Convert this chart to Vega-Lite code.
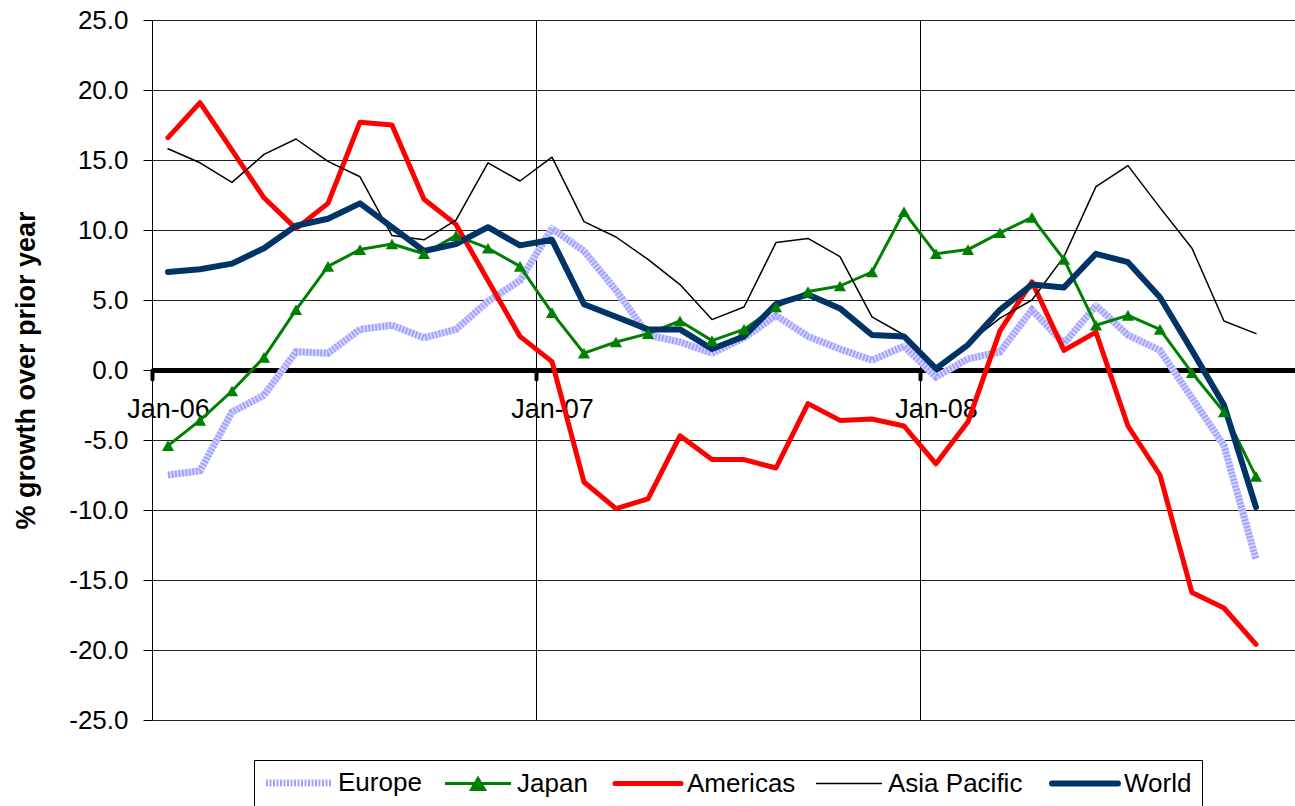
{
  "$schema": "https://vega.github.io/schema/vega-lite/v6.json",
  "width": 1143,
  "height": 700,
  "autosize": {"type": "none"},
  "padding": {"left": 152, "top": 20, "right": 0, "bottom": 86},
  "config": {
    "view": {"stroke": null},
    "font": "Liberation Sans",
    "axis": {"labelFont": "Liberation Sans", "titleFont": "Liberation Sans"},
    "legend": {"labelFont": "Liberation Sans"}
  },
  "data": {
    "values": [
      {"i": 0, "month": "Jan-06", "Europe": -7.5, "Japan": -5.4, "Americas": 16.6, "Asia Pacific": 15.8, "World": 7.0},
      {"i": 1, "month": "Feb-06", "Europe": -7.2, "Japan": -3.6, "Americas": 19.1, "Asia Pacific": 14.8, "World": 7.2},
      {"i": 2, "month": "Mar-06", "Europe": -3.0, "Japan": -1.5, "Americas": 15.7, "Asia Pacific": 13.4, "World": 7.6},
      {"i": 3, "month": "Apr-06", "Europe": -1.8, "Japan": 0.9, "Americas": 12.3, "Asia Pacific": 15.4, "World": 8.7},
      {"i": 4, "month": "May-06", "Europe": 1.3, "Japan": 4.3, "Americas": 10.1, "Asia Pacific": 16.5, "World": 10.3},
      {"i": 5, "month": "Jun-06", "Europe": 1.2, "Japan": 7.4, "Americas": 11.9, "Asia Pacific": 14.9, "World": 10.8},
      {"i": 6, "month": "Jul-06", "Europe": 2.9, "Japan": 8.6, "Americas": 17.7, "Asia Pacific": 13.8, "World": 11.9},
      {"i": 7, "month": "Aug-06", "Europe": 3.2, "Japan": 9.0, "Americas": 17.5, "Asia Pacific": 9.6, "World": 10.2},
      {"i": 8, "month": "Sep-06", "Europe": 2.3, "Japan": 8.3, "Americas": 12.2, "Asia Pacific": 9.3, "World": 8.5},
      {"i": 9, "month": "Oct-06", "Europe": 2.9, "Japan": 9.6, "Americas": 10.4, "Asia Pacific": 10.7, "World": 9.0},
      {"i": 10, "month": "Nov-06", "Europe": 4.9, "Japan": 8.7, "Americas": 6.4, "Asia Pacific": 14.8, "World": 10.2},
      {"i": 11, "month": "Dec-06", "Europe": 6.4, "Japan": 7.4, "Americas": 2.4, "Asia Pacific": 13.5, "World": 8.9},
      {"i": 12, "month": "Jan-07", "Europe": 10.1, "Japan": 4.1, "Americas": 0.6, "Asia Pacific": 15.2, "World": 9.3},
      {"i": 13, "month": "Feb-07", "Europe": 8.5, "Japan": 1.2, "Americas": -8.0, "Asia Pacific": 10.6, "World": 4.7},
      {"i": 14, "month": "Mar-07", "Europe": 5.7, "Japan": 2.0, "Americas": -9.9, "Asia Pacific": 9.5, "World": 3.8},
      {"i": 15, "month": "Apr-07", "Europe": 2.5, "Japan": 2.6, "Americas": -9.2, "Asia Pacific": 7.9, "World": 2.9},
      {"i": 16, "month": "May-07", "Europe": 2.0, "Japan": 3.5, "Americas": -4.7, "Asia Pacific": 6.1, "World": 2.9},
      {"i": 17, "month": "Jun-07", "Europe": 1.2, "Japan": 2.1, "Americas": -6.4, "Asia Pacific": 3.6, "World": 1.5},
      {"i": 18, "month": "Jul-07", "Europe": 2.3, "Japan": 2.9, "Americas": -6.4, "Asia Pacific": 4.5, "World": 2.4},
      {"i": 19, "month": "Aug-07", "Europe": 3.9, "Japan": 4.5, "Americas": -7.0, "Asia Pacific": 9.1, "World": 4.7},
      {"i": 20, "month": "Sep-07", "Europe": 2.4, "Japan": 5.6, "Americas": -2.4, "Asia Pacific": 9.4, "World": 5.4},
      {"i": 21, "month": "Oct-07", "Europe": 1.5, "Japan": 6.0, "Americas": -3.6, "Asia Pacific": 8.1, "World": 4.4},
      {"i": 22, "month": "Nov-07", "Europe": 0.7, "Japan": 7.0, "Americas": -3.5, "Asia Pacific": 3.8, "World": 2.5},
      {"i": 23, "month": "Dec-07", "Europe": 1.7, "Japan": 11.3, "Americas": -4.0, "Asia Pacific": 2.5, "World": 2.4},
      {"i": 24, "month": "Jan-08", "Europe": -0.5, "Japan": 8.3, "Americas": -6.7, "Asia Pacific": 0.1, "World": 0.1},
      {"i": 25, "month": "Feb-08", "Europe": 0.8, "Japan": 8.6, "Americas": -3.7, "Asia Pacific": 1.9, "World": 1.8},
      {"i": 26, "month": "Mar-08", "Europe": 1.3, "Japan": 9.8, "Americas": 2.8, "Asia Pacific": 3.7, "World": 4.3},
      {"i": 27, "month": "Apr-08", "Europe": 4.3, "Japan": 10.9, "Americas": 6.3, "Asia Pacific": 5.0, "World": 6.1},
      {"i": 28, "month": "May-08", "Europe": 1.9, "Japan": 7.9, "Americas": 1.4, "Asia Pacific": 8.1, "World": 5.9},
      {"i": 29, "month": "Jun-08", "Europe": 4.6, "Japan": 3.2, "Americas": 2.7, "Asia Pacific": 13.1, "World": 8.3},
      {"i": 30, "month": "Jul-08", "Europe": 2.5, "Japan": 3.9, "Americas": -4.0, "Asia Pacific": 14.6, "World": 7.7},
      {"i": 31, "month": "Aug-08", "Europe": 1.4, "Japan": 2.9, "Americas": -7.5, "Asia Pacific": 11.6, "World": 5.2},
      {"i": 32, "month": "Sep-08", "Europe": -2.0, "Japan": -0.2, "Americas": -15.9, "Asia Pacific": 8.7, "World": 1.4},
      {"i": 33, "month": "Oct-08", "Europe": -5.4, "Japan": -3.0, "Americas": -17.0, "Asia Pacific": 3.5, "World": -2.5},
      {"i": 34, "month": "Nov-08", "Europe": -13.5, "Japan": -7.6, "Americas": -19.6, "Asia Pacific": 2.6, "World": -9.8}
    ]
  },
  "transform": [
    {"fold": ["Europe", "Japan", "Americas", "Asia Pacific", "World"], "as": ["series", "value"]}
  ],
  "encoding": {
    "x": {
      "field": "i",
      "type": "quantitative",
      "scale": {"domain": [-0.5, 35.22], "nice": false, "zero": false},
      "axis": {
        "orient": "bottom",
        "offset": -350,
        "title": null,
        "values": [-0.5, 11.5, 23.5],
        "labelExpr": "datum.value < 0 ? 'Jan-06' : datum.value < 12 ? 'Jan-07' : 'Jan-08'",
        "domain": true,
        "domainColor": "#000000",
        "domainWidth": 5,
        "ticks": true,
        "tickColor": "#000000",
        "tickSize": 9,
        "tickWidth": 4,
        "tickCap": "round",
        "labelFontSize": 27,
        "labelColor": "#000000",
        "labelOffset": 16,
        "labelPadding": 17,
        "labelFlush": false,
        "labelOverlap": false,
        "labelBound": false,
        "grid": true,
        "gridColor": "#000000",
        "gridWidth": 1
      }
    },
    "y": {
      "field": "value",
      "type": "quantitative",
      "scale": {"domain": [-25, 25], "nice": false, "zero": false},
      "axis": {
        "title": "% growth over prior year",
        "titleFontSize": 27,
        "titleFontWeight": "bold",
        "titleColor": "#000000",
        "titlePadding": 28,
        "values": [-25, -20, -15, -10, -5, 0, 5, 10, 15, 20, 25],
        "labelExpr": "replace(format(datum.value, '.1f'), '\u2212', '-')",
        "labelFontSize": 26,
        "labelColor": "#000000",
        "labelPadding": 15,
        "tickSize": 9,
        "tickColor": "#000000",
        "domainColor": "#000000",
        "grid": true,
        "gridColor": "#222222",
        "gridWidth": 1
      }
    }
  },
  "layer": [
    {
      "transform": [{"filter": "datum.series === 'Europe'"}],
      "mark": {"type": "line", "color": "#D9D9FF", "strokeWidth": 7, "clip": false},
      "encoding": {"detail": {"field": "series", "type": "nominal"}}
    },
    {
      "transform": [{"filter": "datum.series === 'Europe'"}],
      "mark": {"type": "line", "strokeWidth": 7, "strokeDash": [2, 1.5], "strokeCap": "butt", "clip": false},
      "encoding": {
        "color": {
          "field": "series",
          "type": "nominal",
          "scale": {
            "domain": ["Europe", "Japan", "Americas", "Asia Pacific", "World"],
            "range": ["#A3A3FF", "#008000", "#FF0000", "#000000", "#003366"]
          },
          "legend": {
            "title": null,
            "orient": "none",
            "legendX": 102,
            "legendY": 740,
            "direction": "horizontal",
            "strokeColor": "#000000",
            "padding": 10,
            "columnPadding": 17,
            "labelOffset": 48,
            "labelFontSize": 26,
            "labelColor": "#000000",
            "symbolSize": 484,
            "symbolType": "M-1,0H5",
            "encode": {
              "symbols": {
                "update": {
                  "shape": {"signal": "datum.value === 'Japan' ? 'M-1,0H5M1.41,0.55L2,-0.45L2.59,0.55Z' : 'M-1,0H5'"},
                  "strokeWidth": {"signal": "datum.value === 'Europe' ? 7 : datum.value === 'Japan' ? 3 : datum.value === 'Americas' ? 5 : datum.value === 'World' ? 6 : 1.5"},
                  "fill": {"signal": "datum.value === 'Japan' ? '#008000' : 'transparent'"},
                  "strokeDash": {"signal": "datum.value === 'Europe' ? [2, 1.5] : [1, 0]"},
                  "strokeCap": {"signal": "datum.value === 'Americas' || datum.value === 'World' ? 'round' : 'butt'"},
                  "size": {"value": 484},
                  "opacity": {"value": 1}
                }
              }
            }
          }
        }
      }
    },
    {
      "transform": [{"filter": "datum.series !== 'Europe'"}],
      "mark": {"type": "line", "strokeCap": "round", "strokeJoin": "round", "clip": false},
      "encoding": {
        "color": {"field": "series", "type": "nominal"},
        "strokeWidth": {
          "field": "series",
          "type": "nominal",
          "scale": {"type": "ordinal", "domain": ["Japan", "Americas", "Asia Pacific", "World"], "range": [3, 5, 1.5, 6]},
          "legend": null
        }
      }
    },
    {
      "transform": [{"filter": "datum.series === 'Japan'"}],
      "mark": {"type": "point", "shape": "triangle-up", "filled": true, "color": "#008000", "size": 150, "opacity": 1, "clip": false},
      "encoding": {}
    }
  ]
}
